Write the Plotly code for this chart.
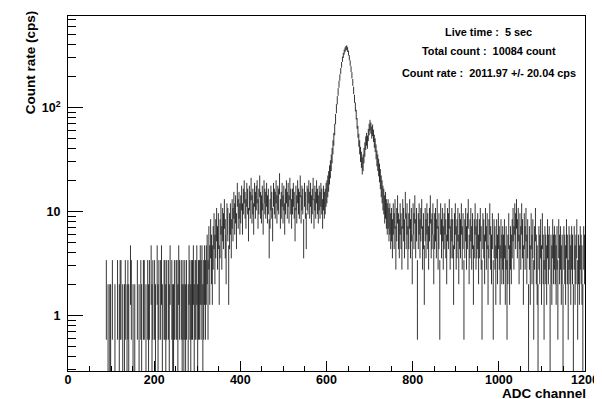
import numpy as np
import plotly.graph_objects as go

# ---------------- data (counts per 2-channel bin) ----------------
bin_width = 2

low_start = 88
low_counts = [2,0,1,0,1,1,0,2,0,0,
              1,0,0,2,0,1,2,2,0,1,
              0,1,2,0,1,2,1,0,3,2,
              0,1,0,1,0,0,2,0,1,0,
              2,1,0,2,2,0,1,0,2,1,
              2,0,3,1,2,0,2,1,0,3,
              1,2,0,2,3,1,0,2,2,1,
              2,0,2,1,3,0,2,1,1,2,
              0,2,2,1,3,2,0,2,1,2,
              1,2,1,2,0,1,3,2,1,2,
              2,3,1,2,2,3,1,2,2,3,
              2,3,1,2,3,2]

rise_start = 320
rise_counts = [3,4,2,5,3,6,4,3,5,7,
               4,6,8,5,7,3,6,9,5,8,
               7,10,6,4,9,8,3,7,9,6,
               10,8,12,9,11,7,15,10,12,9]

plateau_start = 400
plateau_counts = [11,14,9,13,16,12,10,15,13,8,
                  14,12,17,11,13,9,15,12,14,16,
                  10,13,18,12,11,14,9,16,13,12,
                  15,11,13,6,10,14,12,8,15,13,
                  12,16,11,14,13,19,10,12,15,11,
                  14,9,13,16,12,15,11,17,13,10,
                  13,15,12,8,14,11,16,13,12,18,
                  11,14,13,6,15,12,7,14,13,16,
                  12,15,11,13,17,10,14,12,16,13,
                  11,14,12,15,13,10,14,12,13,15]

peak_start = 600
peak_counts = [16,18,20,23,26,30,35,42,50,62,
               78,98,118,142,168,195,225,258,292,318,
               342,360,372,378,362,335,302,268,235,205,
               175,147,122,102,86,71,59,49,42,36,
               32,28,30,35,40,46,50,47,55,62,
               68,64,58,61,54,48,44,38,33,30,
               27,24,21,18,16,14,13,11,12,10,
               9,10,8,9,7]

tail_start = 750
tail_counts = [8,6,9,7,10,5,8,11,7,6,
               9,7,5,10,8,6,12,7,9,5,
               7,10,6,8,4,9,7,11,6,8,
               2,7,9,6,8,10,5,7,3,8,
               6,9,7,5,8,11,6,7,9,4,
               7,8,6,10,5,7,2,9,6,8,
               5,7,9,6,4,8,7,10,5,6,
               8,6,3,7,9,5,6,8,4,7,
               6,9,5,7,2,6,8,5,7,10,
               4,6,8,5,7,3,6,9,5,6,
               7,4,6,8,5,2,7,6,4,8,
               5,7,3,6,9,5,4,7,2,6,
               5,3,6,4,7,5,3,6,4,5,
               4,6,3,5,2,4,7,3,5,4,
               6,8,5,9,7,10,6,8,4,7,
               5,9,6,3,7,5,8,4,6,1,
               5,3,7,4,6,2,5,8,4,3,
               1,5,4,6,3,7,4,2,5,4,
               3,6,4,5,1,4,3,6,4,5,
               4,3,5,2,6,4,5,3,4,1,
               5,4,3,6,4,2,5,4,3,5,
               4,1,5,3,4,6,2,4,3,5,
               4,3,1,5,4]

segments = [(low_start, low_counts), (rise_start, rise_counts),
            (plateau_start, plateau_counts), (peak_start, peak_counts),
            (tail_start, tail_counts)]

x_ticks = [0, 200, 400, 600, 800, 1000, 1200]
y_ticks = [1, 10, 100]
y_ticktext = ["1", "10", "10<sup>2</sup>"]

info_lines = ["Live time :  5 sec",
              "Total count :  10084 count",
              "Count rate :  2011.97 +/- 20.04 cps"]

# ---------------- build error-bar segments ----------------
xs, ys = [], []
for start, cnts in segments:
    c = np.asarray(cnts, dtype=float)
    centers = start + bin_width * np.arange(len(c)) + bin_width / 2
    for xc, v in zip(centers, c):
        if v <= 0:
            continue
        e = np.sqrt(v)
        lo = max(v - e, 1e-3)
        xs += [xc, xc, None]
        ys += [lo, v + e, None]

fig = go.Figure()
fig.add_trace(go.Scatter(x=xs, y=ys, mode="lines",
                         line=dict(color="black", width=0.8),
                         connectgaps=False, hoverinfo="skip",
                         showlegend=False))

FONT = "Liberation Sans, Arial, sans-serif"
font_b = dict(family=FONT, size=12.5, color="black", weight="bold")

x_minor = [v for v in range(50, 1200, 50) if v % 200 != 0]
y_minor = [m * 10 ** d for d in (-1, 0, 1, 2) for m in range(2, 10)
           if 0.29 < m * 10 ** d < 760]

fig.update_xaxes(range=[0, 1200], tickvals=x_ticks, automargin=False,
                 ticks="inside", ticklen=10, tickcolor="black", tickwidth=1,
                 showline=True, linecolor="black", linewidth=1, mirror=True,
                 showgrid=False, zeroline=False, tickfont=font_b,
                 ticklabelstandoff=-3,
                 minor=dict(tickvals=x_minor, ticks="inside", ticklen=5,
                            tickcolor="black", showgrid=False))
fig.update_yaxes(type="log", range=[np.log10(0.293), np.log10(760)],
                 tickvals=y_ticks, ticktext=y_ticktext, automargin=False,
                 ticks="inside", ticklen=15, tickcolor="black", tickwidth=1,
                 showline=True, linecolor="black", linewidth=1, mirror=True,
                 showgrid=False, zeroline=False, tickfont=font_b,
                 ticklabelstandoff=4,
                 minor=dict(tickvals=y_minor, ticks="inside", ticklen=8,
                            tickcolor="black", showgrid=False))

annos = []
info_y = [0.956, 0.901, 0.839]
for txt, yy in zip(info_lines, info_y):
    annos.append(dict(text=txt, x=0.814, y=yy, xref="paper", yref="paper",
                      xanchor="center", yanchor="middle", showarrow=False,
                      font=dict(family=FONT, size=10.9, color="black",
                                weight="bold")))
annos.append(dict(text="Count rate (cps)", x=-0.0735, y=0.87,
                  xref="paper", yref="paper", textangle=-90,
                  xanchor="center", yanchor="middle", showarrow=False,
                  font=dict(family=FONT, size=13.5, color="black",
                            weight="bold")))
annos.append(dict(text="ADC channel", x=1.006, y=-0.062,
                  xref="paper", yref="paper",
                  xanchor="right", yanchor="middle", showarrow=False,
                  font=dict(family=FONT, size=13.5, color="black",
                            weight="bold")))

# The page body adds an 8 px offset, so the figure is 8 px smaller and
# the left/top margins are 8 px smaller to keep the frame in place.
fig.update_layout(width=594, height=391,
                  margin=dict(l=60, r=17, t=8, b=28, autoexpand=False),
                  paper_bgcolor="white", plot_bgcolor="white",
                  annotations=annos, showlegend=False)

fig.write_html("out.html")
